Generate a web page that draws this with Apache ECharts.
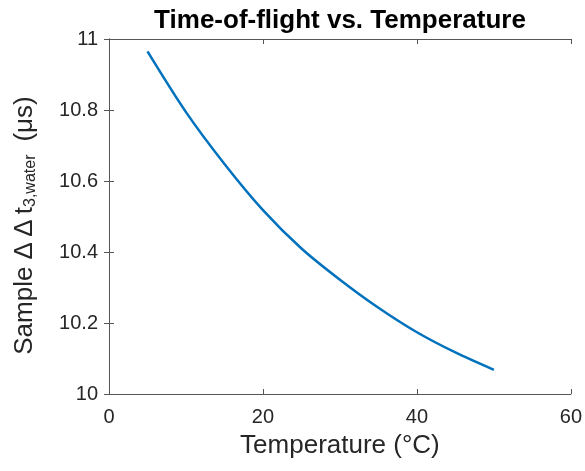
<!DOCTYPE html>
<html>
<head>
<meta charset="utf-8">
<script src="https://cdn.jsdelivr.net/npm/echarts@6/dist/echarts.min.js"></script>
<style>
  html, body { margin: 0; padding: 0; background: #fff; }
  #tofChart { width: 585px; height: 471px; }
</style>
</head>
<body>
<div id="tofChart"></div>
<script>
// temperature (°C) and sample time-of-flight (µs)
const temperature = [5, 10, 15, 20, 25, 30, 35, 40, 45, 50]
const deltaT = [10.965, 10.794, 10.648, 10.518, 10.41, 10.322, 10.243, 10.174, 10.117, 10.068]
const xTicks = [0, 20, 40, 60]
const yTicks = [10, 10.2, 10.4, 10.6, 10.8, 11]

const font = 'Liberation Sans, Arial, sans-serif'
const axisColor = '#555'
const textColor = '#262626'

const chart = echarts.init(document.getElementById('tofChart'))

const boxAxis = {
  axisLine: { show: true, lineStyle: { color: axisColor, width: 1 } },
  axisTick: { show: true, inside: true, length: 5, lineStyle: { color: axisColor } },
  splitLine: { show: false }
}

const option = {
  animation: false,
  backgroundColor: '#fff',
  title: {
    text: 'Time-of-flight vs. Temperature',
    left: 335,
    textAlign: 'center',
    top: 3,
    textStyle: { fontFamily: font, fontSize: 26, fontWeight: 'bold', color: '#000' }
  },
  grid: { left: 109, right: 14, top: 39, bottom: 77 },
  xAxis: [
    Object.assign({
      type: 'value',
      min: xTicks[0],
      max: xTicks[xTicks.length - 1],
      interval: 20,
      name: 'Temperature (°C)',
      nameLocation: 'middle',
      nameGap: 39,
      nameTextStyle: { fontFamily: font, fontSize: 26, color: textColor },
      axisLabel: { fontFamily: font, fontSize: 20, color: textColor, margin: 13 }
    }, boxAxis),
    Object.assign({
      type: 'value',
      position: 'top',
      min: xTicks[0],
      max: xTicks[xTicks.length - 1],
      interval: 20,
      axisLabel: { show: false }
    }, boxAxis)
  ],
  yAxis: [
    Object.assign({
      type: 'value',
      min: yTicks[0],
      max: yTicks[yTicks.length - 1],
      interval: 0.2,
      name: '{m|Sample \u0394\u2009\u0394\u2009t}{s|3,water}{m|\u2002(\u03bcs)}',
      nameLocation: 'middle',
      nameGap: 70,
      nameTextStyle: {
        fontFamily: font,
        color: textColor,
        padding: [0, 18, 0, 0],
        rich: {
          m: { fontFamily: font, fontSize: 26, color: textColor },
          s: { fontFamily: font, fontSize: 16, color: textColor, padding: [13, 0, 0, 0] }
        }
      },
      axisLabel: {
        fontFamily: font, fontSize: 20, color: textColor, margin: 11,
        formatter: function(v) { return String(Math.round(v * 10) / 10) }
      }
    }, boxAxis),
    Object.assign({
      type: 'value',
      position: 'right',
      min: yTicks[0],
      max: yTicks[yTicks.length - 1],
      interval: 0.2,
      axisLabel: { show: false }
    }, boxAxis)
  ],
  series: [
    {
      type: 'line',
      data: temperature.map((t, i) => [t, deltaT[i]]),
      smooth: 0.3,
      symbol: 'none',
      lineStyle: { color: '#0072BD', width: 2.5 }
    }
  ]
}

chart.setOption(option)
</script>
</body>
</html>
